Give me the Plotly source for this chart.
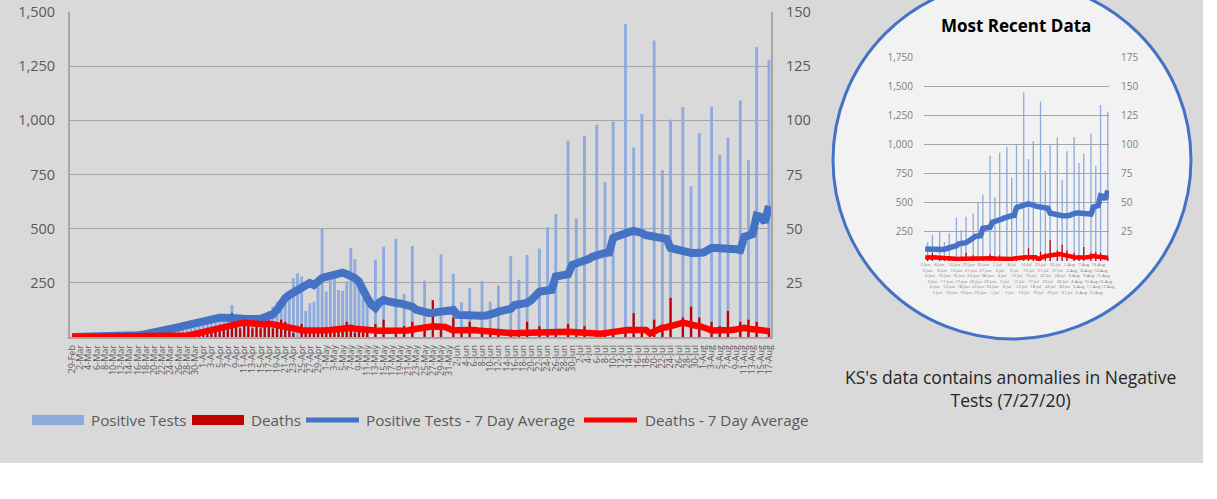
import plotly.graph_objects as go
import pandas as pd

W, H = 1217, 499

# ---------------- data ----------------
dates = pd.date_range("2020-02-29", "2020-08-17", freq="D")
day_labels = [f"{d.day}-{d.strftime('%b')}" for d in dates]
x_idx = list(range(len(dates)))

positive_tests = [
    0, 0, 0, 0, 0, 0, 0, 1, 0, 0,            # 0-9
    1, 3, 2, 4, 5, 8, 11, 15, 20, 17,        # 10-19
    30, 32, 38, 45, 40, 52, 55, 60, 58, 62,  # 20-29
    75, 80, 70, 85, 90, 80, 95, 88, 75, 148, # 30-39
    80, 70, 102, 75, 60, 85, 90, 80, 120, 140,   # 40-49
    160, 170, 180, 190, 271, 294, 279, 120, 156, 163,  # 50-59
    233, 502, 210, 264, 270, 217, 213, 256, 410, 359,  # 60-69
    264, 179, 171, 0, 356, 0, 417, 0, 0, 453,  # 70-79
    0, 199, 0, 420, 0, 0, 261, 0, 0, 0,       # 80-89
    382, 0, 0, 291, 0, 160, 0, 225, 0, 0,     # 90-99
    259, 0, 163, 0, 237, 0, 0, 374, 0, 264,   # 100-109
    0, 379, 0, 0, 408, 0, 507, 0, 568, 0,     # 110-119
    0, 906, 0, 547, 0, 929, 0, 0, 980, 0,     # 120-129
    715, 0, 994, 0, 0, 1445, 0, 875, 0, 1029, # 130-139
    0, 0, 1368, 0, 770, 0, 1003, 0, 0, 1061,  # 140-149
    0, 696, 0, 941, 0, 0, 1063, 0, 841, 0,    # 150-159
    920, 0, 0, 1092, 0, 816, 0, 1338, 0, 0,   # 160-169
    1280,                                     # 170
]

deaths = [
    0, 0, 0, 0, 0, 0, 0, 0, 0, 0,   # 0-9
    0, 0, 0, 0, 0, 0, 0, 0, 0, 0,   # 10-19
    1, 0, 1, 0, 1, 0, 1, 1, 0, 2,   # 20-29
    1, 3, 2, 3, 4, 3, 5, 4, 6, 11,  # 30-39
    5, 4, 6, 5, 4, 5, 4, 6, 5, 4,   # 40-49
    5, 8, 7, 3, 2, -1, 6, 2, 3, 2,  # 50-59
    3, 2, 4, 3, 2, 3, 4, 7, 3, 2,   # 60-69
    4, 3, 2, 0, 6, 0, 8, 0, 0, 3,   # 70-79
    0, 5, 0, 7, 0, 0, 5, 0, 17, 0,  # 80-89
    6, 0, 0, 9, 0, 2, 0, 7, 0, 0,   # 90-99
    3, 0, 4, 0, 3, 0, 0, 2, 0, 3,   # 100-109
    0, 7, 0, 0, 5, 0, 3, 0, 2, 0,   # 110-119
    0, 6, 0, 2, 0, 5, 0, 0, 2, 0,   # 120-129
    3, 0, 3, 0, 0, 2, 0, 11, 0, 3,  # 130-139
    0, 0, 8, 0, 4, 0, 18, 0, 0, 9,  # 140-149
    0, 14, 0, 9, 0, 0, 7, 0, 5, 0,  # 150-159
    12, 0, 0, 7, 0, 8, 0, 7, 0, 0,  # 160-169
    4,                              # 170
]

positive_avg7 = [
    0, 0, 0, 0, 0, 0, 0, 0, 0, 0,             # 0-9
    1, 1, 2, 3, 4, 6, 8, 10, 13, 16,          # 10-19
    20, 24, 28, 32, 37, 41, 45, 50, 55, 60,   # 20-29
    65, 70, 74, 77, 79, 84, 89, 89, 90, 91,   # 30-39
    89, 86, 83, 80, 82, 83, 84, 88, 94, 105,  # 40-49
    125, 160, 180, 194, 205, 215, 225, 240, 249, 240,  # 50-59
    258, 272, 278, 282, 286, 290, 297, 290, 283, 272,  # 60-69
    255, 210, 180, 150, 134, 160, 171, 165, 157, 157,  # 70-79
    155, 152, 148, 140, 125, 118, 113, 111, 112, 115,  # 80-89
    117, 120, 125, 125, 102, 100, 97, 97, 97, 97,      # 90-99
    98, 99, 100, 110, 117, 120, 125, 130, 148, 150,    # 100-109
    152, 157, 170, 186, 209, 212, 215, 217, 279, 282,  # 110-119
    286, 290, 333, 338, 342, 350, 360, 371, 380, 385,  # 120-129
    388, 390, 457, 465, 475, 480, 485, 490, 488, 480,  # 130-139
    470, 465, 459, 455, 453, 453, 411, 405, 400, 394,  # 140-149
    390, 388, 388, 388, 390, 400, 411, 411, 411, 411,  # 150-159
    411, 412, 405, 402, 463, 468, 475, 560, 555, 530,  # 160-169
    605,                                               # 170
]

deaths_avg7 = [
    0, 0, 0, 0, 0, 0, 0, 0, 0, 0,                     # 0-9
    0, 0, 0, 0, 0, 0, 0, 0, 0, 0,                     # 10-19
    0.1, 0.1, 0.3, 0.3, 0.4, 0.4, 0.6, 0.6, 0.7, 1.0, # 20-29
    1.5, 1.9, 2.2, 2.6, 3.0, 3.6, 4.3, 4.8, 5.2, 5.5, # 30-39
    5.9, 6.3, 6.6, 6.4, 6.0, 5.7, 5.5, 5.8, 6.2, 5.9, # 40-49
    5.5, 5.0, 4.8, 4.6, 4.5, 3.6, 3.0, 2.9, 2.8, 2.9, # 50-59
    2.9, 3.0, 3.1, 3.2, 3.4, 3.8, 4.2, 4.5, 4.2, 3.8, # 60-69
    3.5, 3.4, 3.3, 3.1, 3.0, 2.9, 2.9, 2.8, 2.7, 2.6, # 70-79
    2.5, 2.8, 3.0, 3.5, 3.6, 4.2, 4.5, 4.6, 4.9, 5.0, # 80-89
    5.0, 4.6, 3.8, 3.0, 3.1, 3.3, 3.5, 3.5, 3.2, 3.0, # 90-99
    2.8, 2.5, 2.3, 2.0, 1.8, 1.6, 1.4, 1.5, 1.7, 1.9, # 100-109
    2.0, 2.1, 2.0, 2.1, 2.2, 2.2, 2.3, 2.4, 2.5, 2.5, # 110-119
    2.4, 2.4, 2.3, 2.1, 2.0, 1.9, 1.7, 1.5, 1.4, 1.5, # 120-129
    1.8, 2.2, 2.6, 3.0, 3.0, 3.1, 3.2, 3.2, 3.2, 3.3, # 130-139
    3.2, 1.6, 2.5, 4.0, 4.3, 4.5, 4.8, 5.3, 6.0, 6.6, # 140-149
    6.0, 5.5, 5.3, 5.0, 4.6, 3.8, 3.0, 2.9, 3.0, 3.1, # 150-159
    3.2, 3.2, 3.5, 4.0, 4.2, 3.8, 3.5, 3.3, 3.0, 2.8, # 160-169
    2.7,                                              # 170
]

left_ticks = [250, 500, 750, 1000, 1250, 1500]
right_ticks = [25, 50, 75, 100, 125, 150]
inset_left_ticks = [250, 500, 750, 1000, 1250, 1500, 1750]
inset_right_ticks = [25, 50, 75, 100, 125, 150, 175]
inset_start = 94  # first day shown in the "Most Recent Data" inset

title_inset = "Most Recent Data"
note_text = "KS's data contains anomalies in Negative<br>Tests (7/27/20)"
legend_names = ["Positive Tests", "Deaths", "Positive Tests - 7 Day Average",
                "Deaths - 7 Day Average"]

for arr in (positive_tests, deaths, positive_avg7, deaths_avg7):
    assert len(arr) == len(dates), len(arr)

# ---------------- styling ----------------
FONT = "Open Sans"
GRAY_TXT = "#595959"
GRID = "#a6a6a6"
C_POS = "#8faadc"
C_DEATH = "#c00000"
C_POS_LINE = "#4472c4"
C_DEATH_LINE = "#ff0000"


def px(x):
    """page x pixel -> paper fraction"""
    return x / W


def py(y):
    """page y pixel -> paper fraction"""
    return 1 - y / H


# main plot area (pixels)
M_L, M_R, M_T, M_B = 70, 771, 12, 337
# inset plot area
I_L, I_R, I_T, I_B = 924, 1109, 57, 261

fig = go.Figure()

# main chart
fig.add_trace(go.Bar(x=x_idx, y=positive_tests, marker_color=C_POS, width=0.7,
                     marker_line_width=0, xaxis="x", yaxis="y", name=legend_names[0]))
fig.add_trace(go.Bar(x=x_idx, y=deaths, marker_color=C_DEATH, width=0.55,
                     marker_line_width=0, xaxis="x", yaxis="y2", name=legend_names[1]))
fig.add_trace(go.Scatter(x=x_idx, y=positive_avg7, mode="lines",
                         line=dict(color=C_POS_LINE, width=8), xaxis="x", yaxis="y3",
                         name=legend_names[2]))
fig.add_trace(go.Scatter(x=x_idx, y=deaths_avg7, mode="lines",
                         line=dict(color=C_DEATH_LINE, width=6.5), xaxis="x", yaxis="y4",
                         name=legend_names[3]))

# inset chart
ix = x_idx[inset_start:]
fig.add_trace(go.Bar(x=ix, y=positive_tests[inset_start:], marker_color=C_POS, width=0.55,
                     marker_line_width=0, xaxis="x2", yaxis="y5"))
fig.add_trace(go.Bar(x=ix, y=deaths[inset_start:], marker_color=C_DEATH, width=0.5,
                     marker_line_width=0, xaxis="x2", yaxis="y6"))
fig.add_trace(go.Scatter(x=ix, y=positive_avg7[inset_start:], mode="lines",
                         line=dict(color=C_POS_LINE, width=5.5), xaxis="x2", yaxis="y7"))
fig.add_trace(go.Scatter(x=ix, y=deaths_avg7[inset_start:], mode="lines",
                         line=dict(color=C_DEATH_LINE, width=4.5), xaxis="x2", yaxis="y8"))

main_ydom = [py(M_B), py(M_T)]
inset_ydom = [py(I_B), py(I_T)]

ROWS = 6
inset_ticktext = ["<br>" * (k % ROWS) + day_labels[i] for k, i in enumerate(ix)]

fig.update_layout(
    width=W, height=H,
    margin=dict(l=0, r=0, t=0, b=0),
    template="none",
    paper_bgcolor="white",
    plot_bgcolor="rgba(0,0,0,0)",
    barmode="overlay",
    showlegend=False,
    hovermode=False,
    font=dict(family=FONT, color=GRAY_TXT),
    xaxis=dict(domain=[px(M_L), px(M_R)], range=[-0.5, len(dates) - 0.5],
               tickmode="array", tickvals=x_idx[::2], ticktext=day_labels[::2],
               tickangle=-90, tickfont=dict(size=9, color=GRAY_TXT),
               showgrid=False, zeroline=False, showline=True, linecolor=GRID,
               linewidth=1.5, ticks="outside", ticklen=3,
               tickcolor="rgba(0,0,0,0)", automargin=False, anchor="y"),
    yaxis=dict(domain=main_ydom, range=[0, 1500], tickmode="array",
               tickvals=left_ticks, tickformat=",", tickfont=dict(size=14.5, color=GRAY_TXT),
               showgrid=True, gridcolor=GRID, gridwidth=1.3, zeroline=False,
               showline=True, linecolor=GRID, linewidth=2, ticks="outside", ticklen=10,
               tickcolor="rgba(0,0,0,0)", automargin=False, anchor="x"),
    yaxis2=dict(overlaying="y", side="right", range=[0, 150], tickmode="array",
                tickvals=right_ticks, tickfont=dict(size=14.5, color=GRAY_TXT),
                showgrid=False, zeroline=False, showline=True, linecolor=GRID,
                linewidth=2, ticks="outside", ticklen=10, tickcolor="rgba(0,0,0,0)",
                automargin=False, anchor="x"),
    yaxis3=dict(overlaying="y", range=[0, 1500], visible=False, anchor="x"),
    yaxis4=dict(overlaying="y", range=[0, 150], visible=False, anchor="x"),
    xaxis2=dict(domain=[px(I_L), px(I_R)], range=[inset_start - 0.5, len(dates) - 0.5],
                tickmode="array", tickvals=ix, ticktext=inset_ticktext, tickangle=0,
                tickfont=dict(size=4.2, color="#7f7f7f"), showgrid=False, zeroline=False,
                showline=False, ticks="", automargin=False, anchor="y5"),
    yaxis5=dict(domain=inset_ydom, range=[0, 1750], tickmode="array",
                tickvals=inset_left_ticks, tickformat=",",
                tickfont=dict(size=10, color="#7f7f7f"), showgrid=True, gridcolor=GRID,
                gridwidth=1.2, zeroline=False, showline=False, ticks="outside",
                ticklen=8, tickcolor="rgba(0,0,0,0)", automargin=False, anchor="x2"),
    yaxis6=dict(overlaying="y5", side="right", range=[0, 175], tickmode="array",
                tickvals=inset_right_ticks, tickfont=dict(size=10, color="#7f7f7f"),
                showgrid=False, zeroline=False, showline=False, ticks="outside",
                ticklen=9, tickcolor="rgba(0,0,0,0)", automargin=False, anchor="x2"),
    yaxis7=dict(overlaying="y5", range=[0, 1750], visible=False, anchor="x2"),
    yaxis8=dict(overlaying="y5", range=[0, 175], visible=False, anchor="x2"),
)

shapes = [
    # gray panel
    dict(type="rect", xref="paper", yref="paper", x0=px(-10), x1=px(1203),
         y0=py(463), y1=py(-10), fillcolor="#d9d9d9", line=dict(width=0), layer="below"),
    # inset circle
    dict(type="circle", xref="paper", yref="paper", x0=px(833), x1=px(1191),
         y0=py(339), y1=py(-19), fillcolor="#f2f2f2",
         line=dict(color=C_POS_LINE, width=3), layer="below"),
    # legend swatches
    dict(type="rect", xref="paper", yref="paper", x0=px(32), x1=px(84), y0=py(425), y1=py(415),
         fillcolor=C_POS, line=dict(width=0)),
    dict(type="rect", xref="paper", yref="paper", x0=px(192), x1=px(244), y0=py(425), y1=py(415),
         fillcolor=C_DEATH, line=dict(width=0)),
    dict(type="line", xref="paper", yref="paper", x0=px(306), x1=px(359), y0=py(420), y1=py(420),
         line=dict(color=C_POS_LINE, width=5)),
    dict(type="line", xref="paper", yref="paper", x0=px(584), x1=px(637), y0=py(420), y1=py(420),
         line=dict(color=C_DEATH_LINE, width=5)),
]
fig.update_layout(shapes=shapes)

legend_x = [89, 249, 364, 643]
annotations = []
for name, lx in zip(legend_names, legend_x):
    annotations.append(dict(text=name, xref="paper", yref="paper", x=px(lx), y=py(420),
                            xanchor="left", yanchor="middle", showarrow=False,
                            font=dict(size=15.2, color=GRAY_TXT, family=FONT)))
annotations.append(dict(text=f"<b>{title_inset}</b>", xref="paper", yref="paper",
                        x=px(1016), y=py(25), xanchor="center", yanchor="middle",
                        showarrow=False, font=dict(size=17, color="#000000", family=FONT)))
annotations.append(dict(text=note_text, xref="paper", yref="paper", x=px(1010), y=py(388),
                        xanchor="center", yanchor="middle", showarrow=False, align="center",
                        font=dict(size=17.5, color="#262626", family=FONT)))
fig.update_layout(annotations=annotations)

# the page's default 8px body margin would shift the whole figure; remove it
fig.write_html("out.html", config={"displayModeBar": False, "staticPlot": True},
               post_script="document.body.style.margin='0';")
